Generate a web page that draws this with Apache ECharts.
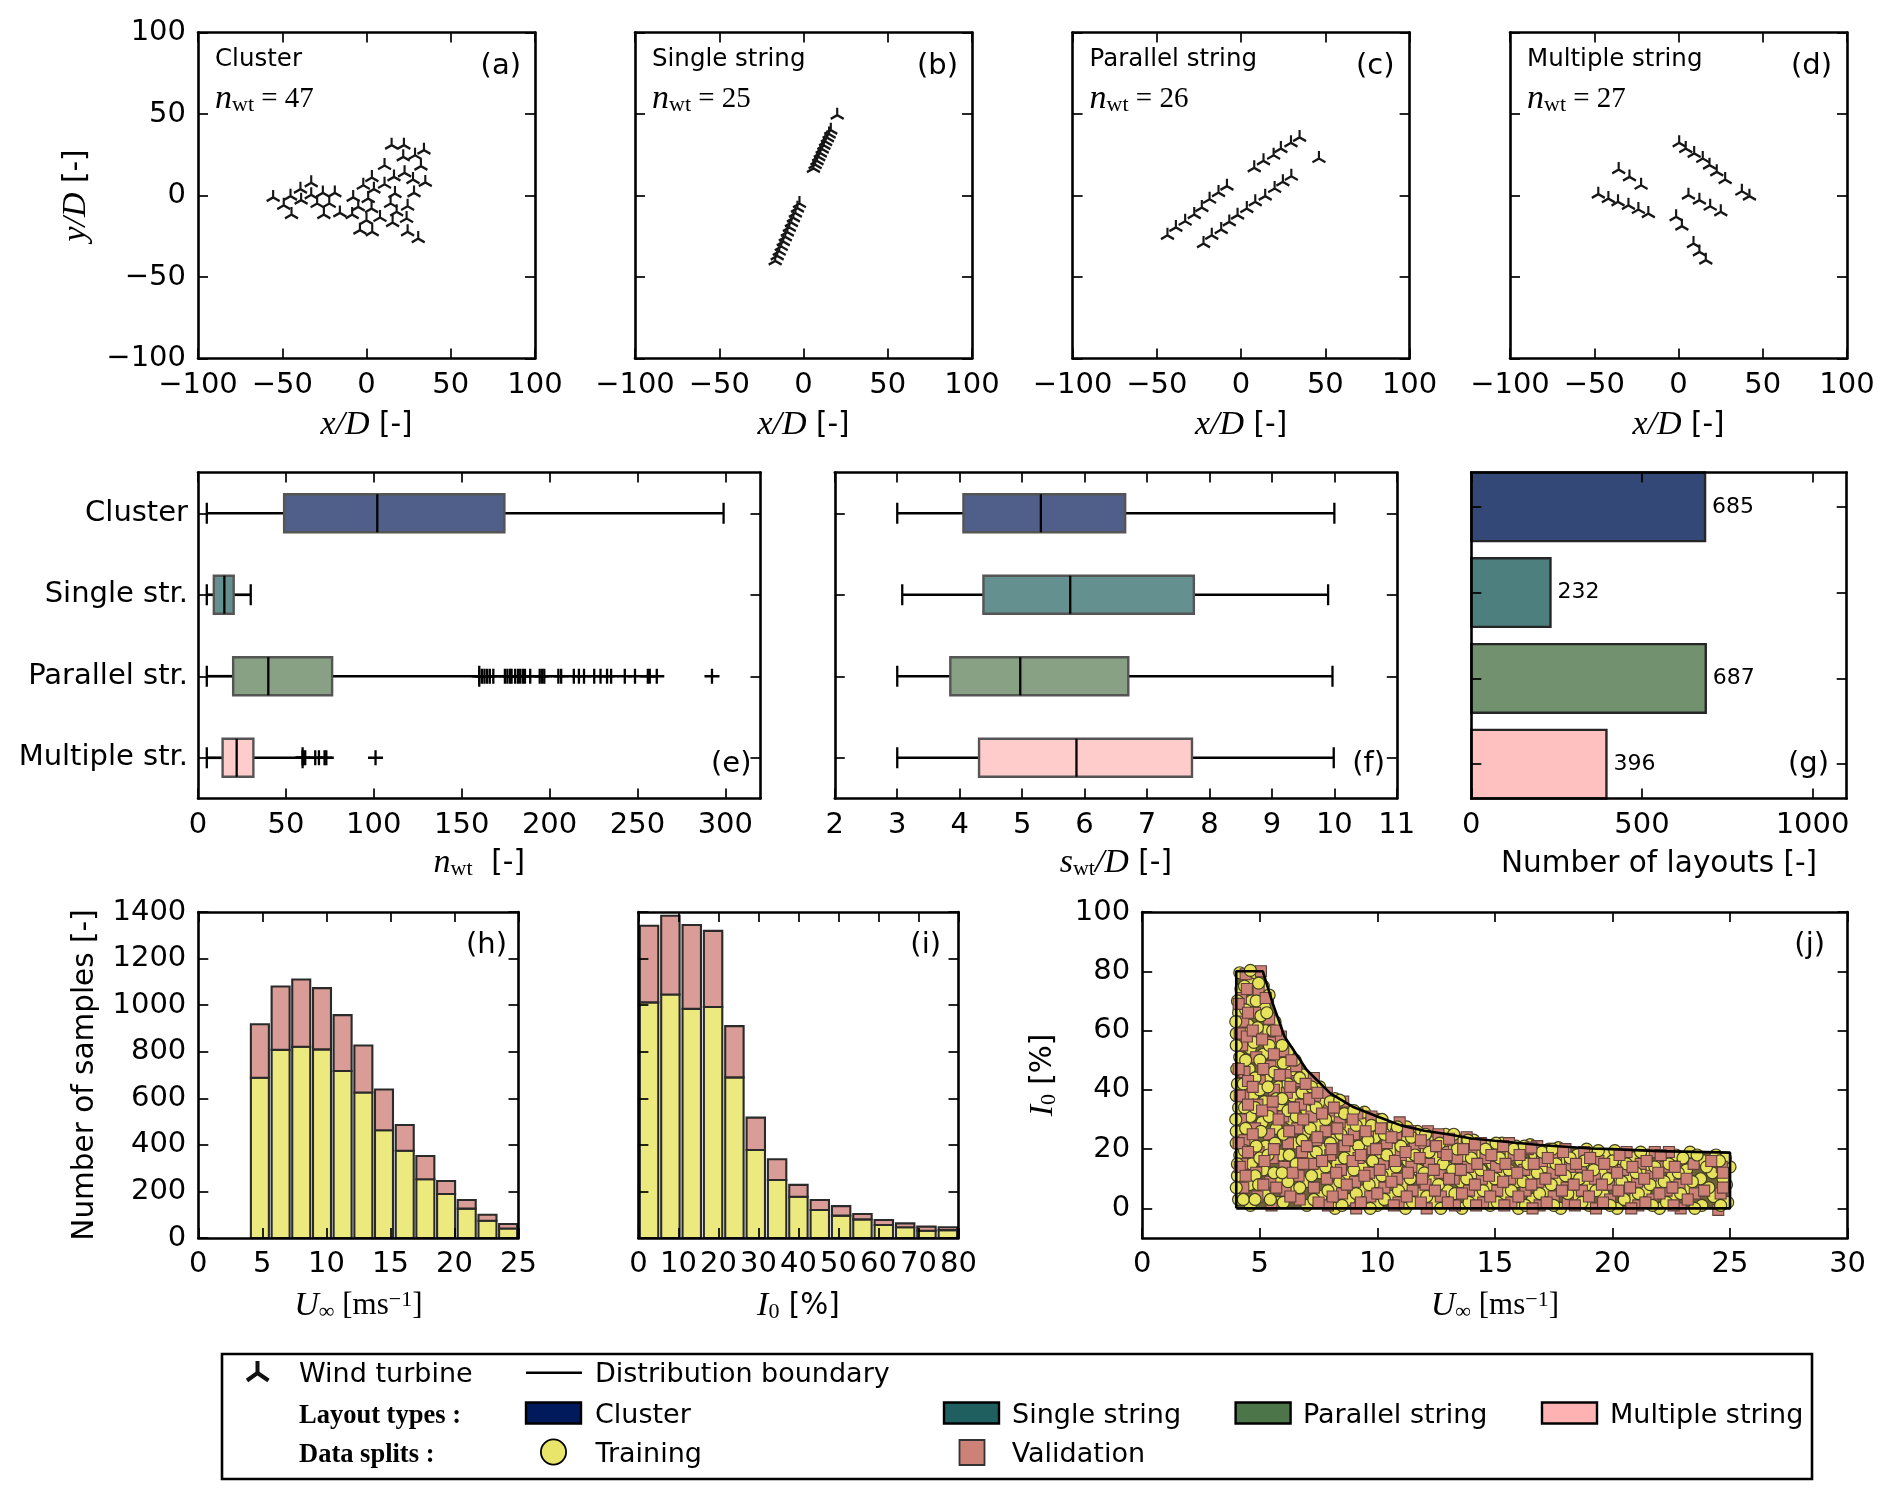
<!DOCTYPE html>
<html><head><meta charset="utf-8">
<style>html,body{margin:0;padding:0;background:#fff}#c{width:1892px;height:1500px}</style>
<script src="https://cdn.jsdelivr.net/npm/echarts@6/dist/echarts.min.js"></script>
</head><body><div id="c"></div>
<script>
// ---------- DATA ----------
const clusterTurbines=[[-55.4,-1.2],[-45.1,-0.4],[-49.1,-6.0],[-44.5,-11.7],[-39.2,3.9],[-38.8,-2.9],[-32.8,7.8],[-32.8,0.4],[-25.9,1.6],[-18.8,1.6],[-29.3,-4.9],[-22.1,-4.9],[-25.3,-11.7],[-15.8,-10.7],[-8.5,-11.7],[-7.9,-1.2],[-1.9,6.3],[3.2,11.0],[4.4,3.9],[10.7,6.9],[10.7,18.4],[14.9,30.9],[22.2,30.9],[34.1,27.8],[21.8,23.7],[28.8,24.7],[32.3,18.0],[16.3,11.4],[22.6,13.9],[27.6,9.8],[34.9,8.0],[28.2,1.6],[16.9,1.2],[14.3,-4.9],[1.0,-1.9],[-4.9,-7.0],[3.0,-8.0],[8.0,-13.5],[17.9,-10.0],[24.4,-6.6],[15.5,-16.6],[23.8,-14.1],[24.4,-22.3],[30.7,-26.4],[0.0,-15.2],[-3.9,-21.3],[3.4,-22.3]];
const singleTurbines=[[20,49.3],[16.2,40.1],[15.2,37.7],[14.2,35.4],[13.1,33.1],[12.1,30.7],[11.1,28.4],[10.0,26.0],[9.0,23.7],[8.0,21.3],[6.9,19.0],[5.9,16.6],[-2.4,-4.9],[-3.6,-7.8],[-4.8,-10.8],[-6.0,-13.7],[-7.2,-16.6],[-8.4,-19.6],[-9.6,-22.5],[-10.8,-25.4],[-12.0,-28.3],[-13.2,-31.3],[-14.4,-34.2],[-15.6,-37.1],[-16.8,-40.1]];
const parallelTurbines=[[7.8,17.0],[13.3,21.3],[19.3,24.7],[23.6,28.8],[29.6,32.3],[34.7,35.6],[46.2,22.7],[-22.3,-29.5],[-17.4,-24.4],[-11.8,-20.9],[-7.0,-16.2],[-2.1,-12.1],[3.4,-8.0],[8.4,-3.9],[14.3,-0.4],[19.9,4.3],[24.8,8.4],[29.8,11.8],[-43.7,-24.4],[-38.7,-19.6],[-33.2,-15.8],[-27.8,-11.7],[-23.3,-7.4],[-18.7,-2.3],[-13.4,1.8],[-8.4,5.7]];
const multipleTurbines=[[0.4,32.3],[4.3,28.8],[9.3,25.8],[14.4,22.7],[18.4,18.6],[22.7,14.5],[27.7,9.8],[37.6,2.6],[42.1,-0.4],[-35.5,15.9],[-29.1,11.4],[-22.2,6.3],[-47.6,0.8],[-41.6,-1.9],[-35.9,-3.9],[-29.7,-6.0],[-23.8,-8.6],[-17.9,-11.1],[5.9,0.2],[12.4,-2.9],[18.8,-6.6],[25.1,-10.0],[-1.4,-13.1],[2.0,-18.8],[8.9,-29.5],[12.4,-34.6],[16.2,-39.7]];
const layoutTitles=['Cluster','Single string','Parallel string','Multiple string'];
const layoutCounts=['47','25','26','27'];
const boxCategories=['Cluster','Single str.','Parallel str.','Multiple str.'];
// [row, low whisker, q1, median, q3, high whisker]
const nwtBoxes=[[0,5,49,102,174.3,299],[1,5,9,15,20.3,30],[2,5,20,40,76.3,160],[3,5,14,22,31.5,59.5]];
const swtBoxes=[[0,3,4.06,5.3,6.65,10],[1,3.08,4.38,5.77,7.75,9.9],[2,3,3.85,4.97,6.7,9.97],[3,3,4.31,5.87,7.72,9.99]];
const parallelOutliers=[160,161.6,163,164.5,166,168,174.6,176,177.5,178.4,180.4,182,183.3,184.8,186,189,194.4,195.8,197,205,206.6,213.8,216.7,219.6,225.4,229,232.7,235,242.8,248.6,255.9,257,261,292.4];
const multipleOutliers=[59.5,60,61,66.7,68.8,72,73,101];
const layoutTotals=[685,232,687,396];
const speedBinLeft=[4,5.62,7.23,8.85,10.46,12.08,13.69,15.31,16.92,18.54,20.15,21.77,23.38];
const speedTrain=[688,808,821,810,717,625,463,375,252,189,126,74,41];
const speedVal=[230,272,289,263,240,202,175,110,100,56,37,26,19];
const tiBinLeft=[0,5.33,10.67,16,21.33,26.67,32,37.33,42.67,48,53.33,58.67,64,69.33,74.67];
const tiTrain=[1012,1046,984,992,690,378,249,177,120,96,80,56,46,31,34];
const tiVal=[329,338,360,327,220,139,89,51,43,41,23,21,17,18,12];
const boundary=[[4,0],[4,80],[5.13,80],[5.56,69],[6.05,58],[7,46.7],[8,38.8],[8.95,34.3],[10,31],[11,28],[12,26.2],[13,25],[14,23.6],[15,22.8],[16.9,21.4],[19.1,20.2],[20,20],[22,19.3],[25,18.8],[25,0],[4,0]];
const trainPoints=[[4.1,3],[4.05,11],[4.15,18],[4.0,26],[4.1,34],[4.05,42],[4.15,51],[4.0,59],[4.1,66],[4.2,74],[4.15,79.5],
[4.6,1],[4.55,8],[4.65,15],[4.5,23],[4.6,31],[4.7,38],[4.55,47],[4.6,54],[4.5,62],[4.65,70],[4.55,77],[4.8,79.5],
[5.2,5],[5.15,13],[5.25,21],[5.1,29],[5.2,36],[5.3,44],[5.15,52],[5.25,60],[5.2,68],[5.15,75],
[5.8,2],[5.75,10],[5.9,18],[5.7,27],[5.85,35],[5.8,41],[5.7,49],[5.75,57],[5.65,63],
[6.4,6],[6.3,14],[6.45,22],[6.35,30],[6.4,38],[6.3,46],[6.2,53],
[7,1],[6.95,9],[7.1,17],[6.9,25],[7,33],[7.05,40],[6.85,45],
[7.6,4],[7.55,12],[7.7,20],[7.5,28],[7.6,36],[7.55,41],
[8.2,0],[8.15,7],[8.3,15],[8.1,23],[8.25,31],[8.2,37],
[8.8,3],[8.75,11],[8.9,19],[8.7,27],[8.85,33],
[9.4,6],[9.35,14],[9.5,22],[9.3,29],[9.45,32.5],
[10,1],[9.95,9],[10.1,17],[9.9,24],[10.05,30],
[10.6,4],[10.55,12],[10.7,20],[10.5,27],
[11.2,0],[11.15,8],[11.3,16],[11.1,23],[11.25,27.5],
[11.8,5],[11.75,13],[11.9,20],[11.7,26],
[12.4,2],[12.35,10],[12.5,17],[12.3,24],
[13,6],[12.95,14],[13.1,21],[12.9,25],
[13.6,0],[13.55,9],[13.7,17],[13.5,23],
[14.2,4],[14.15,12],[14.3,19],[14.1,23],
[14.8,1],[14.75,8],[14.9,15],[14.7,21],
[15.4,5],[15.35,12],[15.5,18],[15.3,22],
[16,0],[15.95,9],[16.1,16],[15.9,21],
[16.6,3],[16.55,11],[16.7,18],[16.5,21.5],
[17.2,6],[17.15,14],[17.3,20],
[17.8,0],[17.75,9],[17.9,16],[17.7,20.5],
[18.4,4],[18.35,12],[18.5,18],
[19,1],[18.95,8],[19.1,15],[18.9,20],
[19.6,5],[19.55,12],[19.7,18],
[20.2,0],[20.15,9],[20.3,15],[20.1,19.5],
[20.8,3],[20.75,11],[20.9,17],
[21.4,6],[21.35,13],[21.5,18],
[22,0],[21.95,9],[22.1,16],
[22.6,3],[22.55,11],[22.7,18],
[23.2,7],[23.15,13],[23.3,19],
[23.8,1],[23.75,10],[23.9,16],
[24.3,4],[24.25,12],[24.4,18],
[24.9,2],[24.85,8],[25,14],[24.8,17]];
const valPoints=[[4.3,7],[4.25,15],[4.35,23],[4.2,30],[4.3,38],[4.35,46],[4.25,55],[4.3,63],[4.2,71],[4.4,79],
[4.9,4],[4.85,12],[4.95,19],[4.8,27],[4.9,35],[5,43],[4.85,51],[4.9,58],[4.8,66],[4.95,73],[5.05,80],
[5.5,1],[5.45,9],[5.55,17],[5.4,25],[5.5,33],[5.6,40],[5.45,48],[5.5,56],[5.4,64],[5.35,71],
[6.1,6],[6.05,14],[6.2,22],[6,31],[6.15,39],[6.1,45],[6,53],[5.9,58],
[6.7,3],[6.65,11],[6.8,19],[6.6,27],[6.75,35],[6.6,43],[6.55,48],
[7.3,7],[7.25,15],[7.4,23],[7.2,31],[7.35,38],[7.3,44],
[7.9,1],[7.85,10],[8,18],[7.8,26],[7.95,33],[7.85,39],
[8.5,5],[8.45,13],[8.6,21],[8.4,29],[8.55,36],
[9.1,0],[9.05,9],[9.2,17],[9,25],[9.15,32],
[9.7,4],[9.65,12],[9.8,20],[9.6,26],[9.75,31],
[10.3,7],[10.25,15],[10.4,22],[10.2,28],
[10.9,2],[10.85,10],[11,18],[10.8,25],[10.95,29],
[11.5,6],[11.45,14],[11.6,21],[11.4,26],
[12.1,0],[12.05,8],[12.2,15],[12,22],[12.15,26],
[12.7,4],[12.65,12],[12.8,19],[12.6,25],
[13.3,1],[13.25,10],[13.4,17],[13.2,23],
[13.9,6],[13.85,14],[14,20],[13.8,24],
[14.5,2],[14.45,10],[14.6,17],[14.4,22],
[15.1,6],[15.05,14],[15.2,20],
[15.7,2],[15.65,10],[15.8,18],[15.6,22],
[16.3,6],[16.25,13],[16.4,20],
[16.9,1],[16.85,9],[17,16],[16.8,21],
[17.5,4],[17.45,12],[17.6,18],
[18.1,2],[18.05,7],[18.2,14],[18,20],
[18.7,6],[18.65,14],[18.8,19],
[19.3,0],[19.25,10],[19.4,16],
[19.9,3],[19.85,8],[20,14],
[20.5,6],[20.45,13],[20.6,19],
[21.1,1],[21.05,9],[21.2,15],
[21.7,3],[21.65,11],[21.8,19],
[22.3,6],[22.25,14],[22.4,19],
[22.9,0],[22.85,8],
[23.5,5],[23.45,15],
[24.5,-0.5],[24.6,5],[24.65,14]];
const trainPointsUpper=[[4,7],[4.3,3],[4.05,15],[4.35,19.5],[4,22],[4.4,27],[3.98,30],[4.35,34],[4,38],[4.3,42],[4.02,47],[4.4,50],[4,55],[4.35,59],[3.98,63],[4.4,67],[4.05,70],[4.35,75],[4.6,80.3],[4.95,76],[4.85,70],[5.05,65],[4.9,61],[4.75,56],[5,50],[4.8,44],[5,40],[4.8,34],[5.05,26],[4.85,21],[5,17],[4.8,11],[4.95,8],[4.8,3],
[5.45,3],[5.6,12],[5.35,18],[5.65,22],[5.4,31],[5.7,37],[5.35,41],[5.6,46],[5.4,55],[5.55,60],[5.3,66],[5.4,72],
[6,2],[6.2,9],[5.95,12],[6.25,18],[6,25],[6.2,33],[5.95,37],[6.2,42],[6,49],[5.95,55],
[6.7,7],[6.55,15],[6.8,23],[6.55,31],[6.8,39],[6.7,44],[6.5,50],
[7.3,3],[7.2,11],[7.4,19],[7.15,27],[7.4,34],[7.2,41],
[7.9,6],[7.8,14],[8,22],[7.8,30],[8,36],
[8.5,1],[8.4,9],[8.6,17],[8.45,25],[8.6,32],[8.4,36.5],
[9.1,5],[9,13],[9.2,21],[9.1,28],[9,33],
[9.7,0],[9.65,8],[9.8,16],[9.6,23],[9.75,28],
[10.3,3],[10.2,11],[10.4,18],[10.3,25],[10.2,30],
[10.9,6],[10.8,14],[11,21],[10.85,27.5],
[11.5,2],[11.4,10],[11.6,18],[11.45,24],
[12.1,4],[12,12],[12.2,19],[12.05,25],
[12.7,0],[12.6,8],[12.8,15],[12.65,22],
[13.3,5],[13.2,13],[13.4,20],[13.25,25],
[13.9,2],[13.8,10],[14,17],[13.85,23],
[14.5,6],[14.4,13],[14.6,20],
[15.1,2],[15,10],[15.2,17],[15.05,22],
[15.7,6],[15.6,13],[15.8,20],
[16.3,1],[16.2,9],[16.4,15],[16.25,21],
[16.9,5],[16.8,12],[17,19],
[17.5,1],[17.4,8],[17.6,15],[17.45,20],
[18.1,5],[18,11],[18.2,17],
[18.7,2],[18.6,10],[18.8,16],
[19.3,6],[19.2,13],[19.4,19.5],
[19.9,1],[19.8,10],[20,16],
[20.5,3],[20.4,9],[20.6,15],
[21.1,5],[21,12],[21.2,19],
[21.7,1],[21.6,8],[21.8,14],
[22.3,2],[22.2,9],[22.4,15],
[22.9,5],[22.8,12],[23,17],
[23.5,0],[23.4,9],[23.6,18],
[24.1,7],[24,14],
[24.6,1],[24.7,10],[24.55,16]];
const valPointsUpper=[[4.15,14],[4.4,11],[4.1,22],[4.5,19],[4.15,38],[4.5,35],[4.1,47],[4.5,43],[4.15,59],[4.45,58],[4.1,69],[4.5,66],[4.45,74],
[4.7,25],[5.1,33],[4.7,41],[5.15,47],[4.7,60],[5.1,57],[5.25,71],[5.2,16],[5.15,8],
[5.7,7],[5.6,20],[5.8,30],[5.55,36],[5.85,45],[5.6,52],[5.7,60],
[6.3,4],[6.4,12],[6.25,26],[6.45,34],[6.3,41],[6.35,50],
[6.85,15],[7,21],[6.85,30],[7.1,37],[6.95,42],
[7.5,2],[7.65,16],[7.45,24],[7.65,32],[7.45,39],
[8.1,4],[8.25,12],[8.05,20],[8.3,27],[8.15,34],
[8.7,8],[8.95,16],[8.75,23],[8.95,30],
[9.3,2],[9.45,11],[9.3,18],[9.5,26],
[10,5],[10.1,13],[9.95,20],[10.15,27],
[10.7,1],[10.6,9],[10.75,16],[10.6,24],
[11.25,4],[11.3,12],[11.2,19],[11.3,26],
[11.85,2],[11.9,10],[11.8,17],[11.85,23],
[12.45,6],[12.4,13],[12.5,21],
[13,2],[13.05,10],[12.95,18],[13.05,23.5],
[13.6,5],[13.55,13],[13.65,20],
[14.2,1],[14.15,8],[14.25,15],[14.15,21.5],
[14.8,4],[14.75,11],[14.85,18],
[15.4,1],[15.35,9],[15.45,15],[15.35,21],
[16,4],[15.95,12],[16.05,18],
[16.6,0],[16.55,8],[16.65,15],[16.55,20.5],
[17.2,2],[17.15,10],[17.25,17],
[17.85,6],[17.8,13],[17.9,19],
[18.4,1],[18.35,8],[18.45,15],
[19,4],[18.95,11],[19.05,17],
[19.6,2],[19.55,8],[19.65,15],
[20.25,6],[20.2,12],[20.3,18],
[20.8,0],[20.75,7],[20.85,14],
[21.4,2],[21.35,10],[21.45,16],
[22,5],[21.95,12],[22.05,18],
[22.6,1],[22.55,7],[22.65,14],
[23.2,3],[23.15,10],[23.9,6],[24.2,16],[24.7,7],[24.7,12]];
// ---------- STYLE ----------
const SANS='DejaVu Sans',SERIF='Liberation Serif';
const LABEL=29;
const boxFill=['#4f5f8a','#659090','#88a184','#ffcccc'];
const barFill=['#344877','#4d7f7f','#72926f','#ffc0c0'];
const trainFill='#ece97f',valFill='#d99c97';
const rich={
 i:{fontFamily:SERIF,fontStyle:'italic',fontSize:34,color:'#000'},
 s:{fontFamily:SERIF,fontSize:22,color:'#000',verticalAlign:'bottom',padding:[12,0,0,0]},
 sup:{fontFamily:SERIF,fontSize:22,color:'#000',verticalAlign:'top',padding:[0,0,10,0]},
 m:{fontFamily:SERIF,fontSize:31,color:'#000'},
 q:{fontFamily:SERIF,fontSize:29,color:'#000'},
 r:{fontFamily:SANS,fontSize:29.5,color:'#000'}
};
const fmtMinus=v=>String(v).replace('-','\u2212');
const xAxes=[],yAxes=[],grids=[],series=[];
function panel(box,xo,yo){
 const g=grids.length;
 grids.push({left:box[0],top:box[1],width:box[2],height:box[3],containLabel:false});
 const base={gridIndex:g,z:10,silent:true,axisLine:{show:true,onZero:false,lineStyle:{color:'#000',width:2.6}},
  axisTick:{show:true,inside:true,length:10,alignWithLabel:true,lineStyle:{color:'#000',width:1.7}},splitLine:{show:false},splitArea:{show:false}};
 const mk=(o,pos,primary)=>{
  const tickVals=o.ticks?{customValues:o.ticks}:{};
  const a=Object.assign({},base,{type:o.type||'value',position:pos,min:o.min,max:o.max,interval:o.interval,inverse:!!o.inverse,data:o.data,
   axisTick:Object.assign({},base.axisTick,tickVals),
   axisLabel:primary&&o.labels!==false?Object.assign({show:true,color:'#000',fontFamily:SANS,fontSize:LABEL,margin:o.margin||12,formatter:o.type==='category'?undefined:fmtMinus},o.ticks?{customValues:o.ticks}:{}):{show:false}});
  if(primary&&o.name){a.name=o.name;a.nameLocation='middle';a.nameGap=o.gap;a.nameMoveOverlap=false;a.nameTextStyle={rich,fontFamily:SANS,fontSize:LABEL,color:'#000'};}
  return a;};
 const xi=xAxes.length,yi=yAxes.length;
 xAxes.push(mk(xo,'bottom',true),mk(xo,'top',false));
 yAxes.push(mk(yo,'left',true),mk(yo,'right',false));
 return {xAxisIndex:xi,yAxisIndex:yi};
}
const tri='path://M50 0L50 50L6.7 75M50 50L93.3 75M50 100';
const plus='path://M0 50L100 50M50 0L50 100';
function turbines(ax,data){series.push(Object.assign({type:'scatter',data,symbol:tri,symbolSize:[13,15],silent:true,itemStyle:{color:'none',borderColor:'#161616',borderWidth:2.3,opacity:1}},ax));}
const top1=32.5,h=326;
const xyName='{i|x/D}{r| [-]}',yyName='{i|y/D}{r| [-]}';
[[198,clusterTurbines],[635,singleTurbines],[1072.6,parallelTurbines],[1510,multipleTurbines]].forEach((p,i)=>{
 const ax=panel([p[0],top1,337,h],{min:-100,max:100,interval:50,name:xyName,gap:50},
  {min:-100,max:100,interval:50,labels:i===0,name:i===0?yyName:undefined,gap:105});
 turbines(ax,p[1]);
});
function boxSeries(ax,data){
 series.push(Object.assign({type:'custom',silent:true,encode:{x:[1,2,3,4,5],y:0},data,
  renderItem(params,api){
   const r=api.value(0),c=k=>api.coord([api.value(k),r]);
   const lo=c(1),q1=c(2),md=c(3),q3=c(4),hi=c(5),y=lo[1],hb=19,cap=10.5;
   const ln=(x1,y1,x2,y2,w)=>({type:'line',shape:{x1,y1,x2,y2},style:{stroke:'#000',lineWidth:w}});
   return {type:'group',children:[
    ln(lo[0],y,q1[0],y,2.7),ln(q3[0],y,hi[0],y,2.7),ln(lo[0],y-cap,lo[0],y+cap,2.3),ln(hi[0],y-cap,hi[0],y+cap,2.3),
    {type:'rect',shape:{x:q1[0],y:y-hb,width:q3[0]-q1[0],height:2*hb},style:{fill:boxFill[r],stroke:'#555',lineWidth:2.4}},
    ln(md[0],y-hb,md[0],y+hb,2.3)]};
  }},ax));
}
const axE=panel([198,472.5,562.5,h],{min:0,max:320,ticks:[0,50,100,150,200,250,300],name:'{i|n}{s|wt}{r|  [-]}',gap:48},
 {type:'category',data:boxCategories,inverse:true,margin:10});
boxSeries(axE,nwtBoxes);
series.push(Object.assign({type:'scatter',silent:true,symbol:plus,symbolSize:15,itemStyle:{color:'none',borderColor:'#000',borderWidth:2.3,opacity:1},
 data:parallelOutliers.map(v=>[v,2]).concat(multipleOutliers.map(v=>[v,3]))},axE));
const axF=panel([834.8,472.5,562,h],{min:2,max:11,interval:1,name:'{i|s}{s|wt}{i|/D}{r| [-]}',gap:48},
 {type:'category',data:boxCategories,inverse:true,labels:false});
boxSeries(axF,swtBoxes);
const axG=panel([1471.3,472.5,375.4,h],{min:0,max:1100,ticks:[0,500,1000],name:'{r|Number of layouts [-]}',gap:51},
 {min:-0.4,max:3.4,inverse:true,ticks:[0,1,2,3],labels:false});
series.push(Object.assign({type:'custom',silent:true,encode:{x:0,y:1},data:layoutTotals.map((v,i)=>[v,i]),
 renderItem(params,api){
  const v=api.value(0),r=api.value(1),a=api.coord([0,r-0.4]),b=api.coord([v,r+0.4]),m=api.coord([v,r]);
  return {type:'group',children:[
   {type:'rect',shape:{x:a[0],y:a[1],width:b[0]-a[0],height:b[1]-a[1]},style:{fill:barFill[r],stroke:'#262626',lineWidth:2.4}},
   {type:'text',x:m[0]+7,y:m[1],style:{text:String(v),fontFamily:SANS,fontSize:22,fill:'#000',verticalAlign:'middle'}}]};
 }},axG));
function hist(ax,left,train,val,binW,barW){
 const data=left.map((l,i)=>[l+(binW-barW)/2,l+(binW+barW)/2,train[i],train[i]+val[i]]);
 series.push(Object.assign({type:'custom',silent:true,encode:{x:[0,1],y:[2,3]},data,
  renderItem(params,api){
   const x0=api.value(0),x1=api.value(1),t=api.value(2),s=api.value(3);
   const a=api.coord([x0,0]),b=api.coord([x1,t]),c=api.coord([x1,s]);
   const st=f=>({fill:f,stroke:'#2a2a2a',lineWidth:2.1});
   return {type:'group',children:[
    {type:'rect',shape:{x:a[0],y:b[1],width:b[0]-a[0],height:a[1]-b[1]},style:st(trainFill)},
    {type:'rect',shape:{x:a[0],y:c[1],width:b[0]-a[0],height:b[1]-c[1]},style:st(valFill)}]};
  }},ax));
}
const uName='{i|U}{s|\u221E}{m| [ms}{sup|\u22121}{m|]}',iName='{i|I}{s|0}{r| [%]}';
const axH=panel([198.3,912,320.2,h],{min:0,max:25,interval:5,name:uName,gap:51},
 {min:0,max:1400,interval:200,name:'{r|Number of samples [-]}',gap:98});
hist(axH,speedBinLeft,speedTrain,speedVal,1.615,1.405);
const axI=panel([638.4,912,320.1,h],{min:0,max:80,interval:10,name:iName,gap:51},
 {min:0,max:1400,interval:200,labels:false});
hist(axI,tiBinLeft,tiTrain,tiVal,5.33,4.6);
const axJ=panel([1142.2,912,705.4,h],{min:0,max:30,interval:5,name:uName,gap:51},
 {min:-10,max:100,ticks:[0,20,40,60,80,100],name:iName,gap:82});
series.push(Object.assign({type:'custom',silent:true,encode:{x:0,y:1},z:1,data:boundary,
 renderItem(params,api){
  if(params.dataIndex!==0)return null;
  return {type:'polygon',shape:{points:boundary.map(p=>api.coord(p))},style:{fill:'#6e6239'}};
 }},axJ));
const trainStyle={color:'#e6e25c',borderColor:'#3d3d20',borderWidth:1.2,opacity:1},valStyle={color:'#cd8278',borderColor:'#5f403b',borderWidth:1.1,opacity:1};
series.push(Object.assign({type:'scatter',silent:true,z:2,data:trainPoints,symbol:'circle',symbolSize:12,itemStyle:trainStyle},axJ));
series.push(Object.assign({type:'scatter',silent:true,z:2,data:valPoints,symbol:'rect',symbolSize:11,itemStyle:valStyle},axJ));
series.push(Object.assign({type:'scatter',silent:true,z:2,data:trainPointsUpper,symbol:'circle',symbolSize:12,itemStyle:trainStyle},axJ));
series.push(Object.assign({type:'scatter',silent:true,z:2,data:valPointsUpper,symbol:'rect',symbolSize:11,itemStyle:valStyle},axJ));
series.push(Object.assign({type:'line',silent:true,z:4,data:boundary,showSymbol:false,symbol:'none',lineStyle:{color:'#000',width:2.6}},axJ));
// ---------- ANNOTATIONS + LEGEND ----------
const graphic=[];
const T=(text,x,y,o={})=>graphic.push({type:'text',silent:true,z:20,x,y,style:Object.assign({text,fontFamily:SANS,fontSize:LABEL,fill:'#000',verticalAlign:'middle',align:'left'},o)});
[198,635,1072.6,1510].forEach((l,i)=>{
 T(layoutTitles[i],l+17,60,{fontSize:24.5});
 T('{i|n}{s|wt}{q| = '+layoutCounts[i]+'}',l+17,99,{rich});
});
[['(a)',521,66],['(b)',958,66],['(c)',1394.6,66],['(d)',1832,66],['(e)',751.5,764],['(f)',1385,764],['(g)',1829,764],['(h)',507,945],['(i)',941,945],['(j)',1825,945]]
 .forEach(a=>T(a[0],a[1],a[2],{align:'right'}));
graphic.push({type:'rect',silent:true,z:20,shape:{x:222,y:1354,width:1590,height:125},style:{fill:'#fff',stroke:'#000',lineWidth:2.6}});
const LF=27;
graphic.push({type:'polyline',silent:true,z:21,shape:{points:[[257.5,1361],[257.5,1373],[247,1380.5]]},style:{fill:'none',stroke:'#111',lineWidth:4}});
graphic.push({type:'polyline',silent:true,z:21,shape:{points:[[257.5,1373],[268.5,1380.5]]},style:{fill:'none',stroke:'#111',lineWidth:4}});
T('Wind turbine',299,1375,{fontSize:LF});
graphic.push({type:'line',silent:true,z:21,shape:{x1:526,y1:1372.7,x2:582,y2:1372.7},style:{stroke:'#000',lineWidth:2.6}});
T('Distribution boundary',595,1375,{fontSize:LF});
const HEAD={fontFamily:SERIF,fontWeight:'bold',fontSize:26.5};
T('Layout types :',299,1416,HEAD);
T('Data splits :',299,1455,HEAD);
[[526,'#001a5c','Cluster',595],[944,'#1f5f5f','Single string',1012],[1235.6,'#4c7549','Parallel string',1303],[1542,'#ffb2b2','Multiple string',1610]].forEach(s=>{
 graphic.push({type:'rect',silent:true,z:21,shape:{x:s[0],y:1402.5,width:55,height:21},style:{fill:s[1],stroke:'#000',lineWidth:2.4}});
 T(s[2],s[3],1416,{fontSize:LF});
});
graphic.push({type:'circle',silent:true,z:21,shape:{cx:553.5,cy:1452,r:12.6},style:{fill:'#e9e46a',stroke:'#000',lineWidth:1.8}});
T('Training',595.4,1455,{fontSize:LF});
graphic.push({type:'rect',silent:true,z:21,shape:{x:959.5,y:1440,width:25,height:25},style:{fill:'#cd8278',stroke:'#333',lineWidth:1.8}});
T('Validation',1011.7,1455,{fontSize:LF});
const chart=echarts.init(document.getElementById('c'),null,{renderer:'canvas',width:1892,height:1500});
chart.setOption({animation:false,backgroundColor:'#fff',tooltip:{show:false},legend:{show:false},grid:grids,xAxis:xAxes,yAxis:yAxes,series,graphic});
</script></body></html>
